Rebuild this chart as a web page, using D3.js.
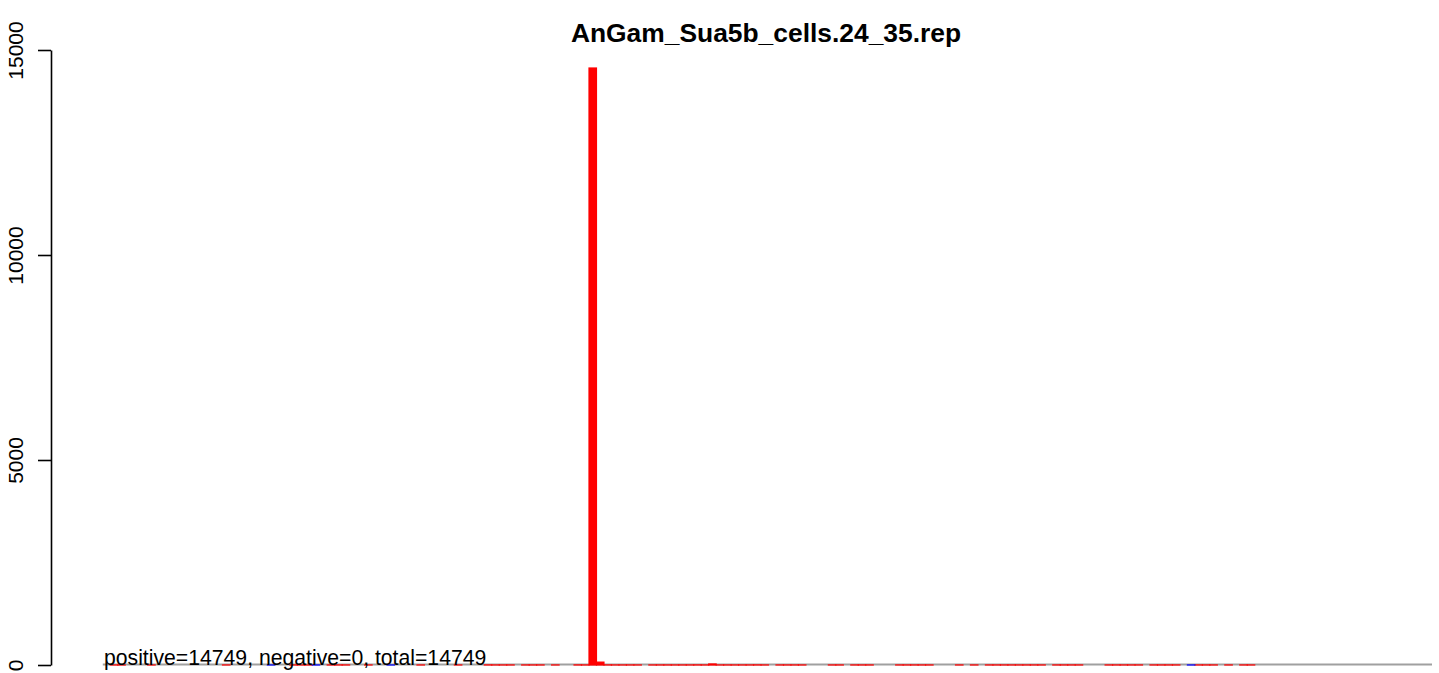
<!DOCTYPE html>
<html>
<head>
<meta charset="utf-8">
<script src="https://cdn.jsdelivr.net/npm/d3@7"></script>
<style>
body { margin:0; background:white; }
svg { display:block; font-family:"Liberation Sans", Arial, sans-serif; }
</style>
</head>
<body>
<svg id="RepChart"></svg>
<script>
var chartTitle = "AnGam_Sua5b_cells.24_35.rep";
var summaryText = "positive=14749, negative=0, total=14749";

// bins along the x range, only the non-empty ones are listed
var binLimit = 177.7;
var redBins = [1,2,6,16,25,26,27,30,31,32,35,42,47,51,
    52,53,54,56,57,58,60,63,64,65,66,67,68,69,70,71,
    73,74,75,76,77,78,79,80,81,82,83,84,85,86,87,88,
    90,91,92,93,97,98,100,101,102,106,107,108,109,110,
    114,116,118,119,120,121,122,123,124,125,127,128,129,130,
    134,135,136,137,138,140,141,142,143,146,147,148,150,152,153];
var redValues = [1,1,1,1,2,1,1,1,1,1,1,1,1,2,
    1,1,1,1,1,1,1,2,1,14561,70,2,1,1,1,1,
    1,1,1,1,1,1,2,1,25,1,1,1,1,1,2,1,
    1,1,1,1,1,1,1,1,1,1,1,1,1,1,
    1,1,1,1,1,1,1,1,1,1,1,1,1,1,
    1,1,1,1,1,1,1,1,1,1,1,1,1,1,1];
var blueBins = [22,28,38,145];
var blueValues = [1,1,1,1];

var yTicks = [0,5000,10000,15000];

var screen = {width:1439, height:673};
var plot = {left:102.8, right:1432, top:50, bottom:665};

var svg = d3.select("#RepChart")
    .attr("width",screen.width)
    .attr("height",screen.height);

var xScale = d3.scaleLinear()
    .domain([0,binLimit])
    .range([plot.left,plot.right]);

var yScale = d3.scaleLinear()
    .domain([0,15000])
    .range([plot.bottom,plot.top]);

var makeBars = function(bins,values)
{
    return bins.map(function(b,i){ return {bin:b, value:values[i]}; });
}

// zero line under the bars
svg.append("line")
    .attr("x1",xScale(0))
    .attr("x2",xScale(binLimit))
    .attr("y1",yScale(0)-0.5)
    .attr("y2",yScale(0)-0.5)
    .attr("stroke","#a0a0a0")
    .attr("stroke-width",2);

var drawBars = function(data,color)
{
    svg.append("g")
    .selectAll("rect")
    .data(data)
    .enter()
    .append("rect")
    .attr("x",function(d){ return xScale(d.bin); })
    .attr("width",function(d){ return xScale(d.bin+1)-xScale(d.bin); })
    .attr("y",function(d){ return yScale(d.value); })
    .attr("height",function(d){ return Math.max(yScale(0)-yScale(d.value),0.01); })
    .attr("fill",color)
    .attr("stroke",color)
    .attr("stroke-width",1.2);
}

drawBars(makeBars(redBins,redValues),"#ff0000");
drawBars(makeBars(blueBins,blueValues),"#0000ff");

var yAxis = d3.axisLeft(yScale)
    .tickValues(yTicks)
    .tickSize(13)
    .tickSizeOuter(0)
    .tickFormat(d3.format("d"));

var axisG = svg.append("g")
    .attr("transform","translate(51,0)")
    .call(yAxis);

axisG.select(".domain").attr("stroke","black").attr("stroke-width",1.6);
axisG.selectAll(".tick line").attr("stroke","black").attr("stroke-width",1.6);
axisG.selectAll(".tick text")
    .attr("transform","rotate(-90)")
    .attr("x",0)
    .attr("y",-28)
    .attr("dy",null)
    .attr("text-anchor","middle")
    .attr("fill","black")
    .style("font-size","21px")
    .style("font-family","Liberation Sans, Arial, sans-serif");

svg.append("text")
    .text(chartTitle)
    .attr("x",766)
    .attr("y",42)
    .attr("text-anchor","middle")
    .attr("font-weight","bold")
    .style("font-size","26.4px");

svg.append("text")
    .text(summaryText)
    .attr("x",104)
    .attr("y",665)
    .style("font-size","21.2px");
</script>
</body>
</html>
